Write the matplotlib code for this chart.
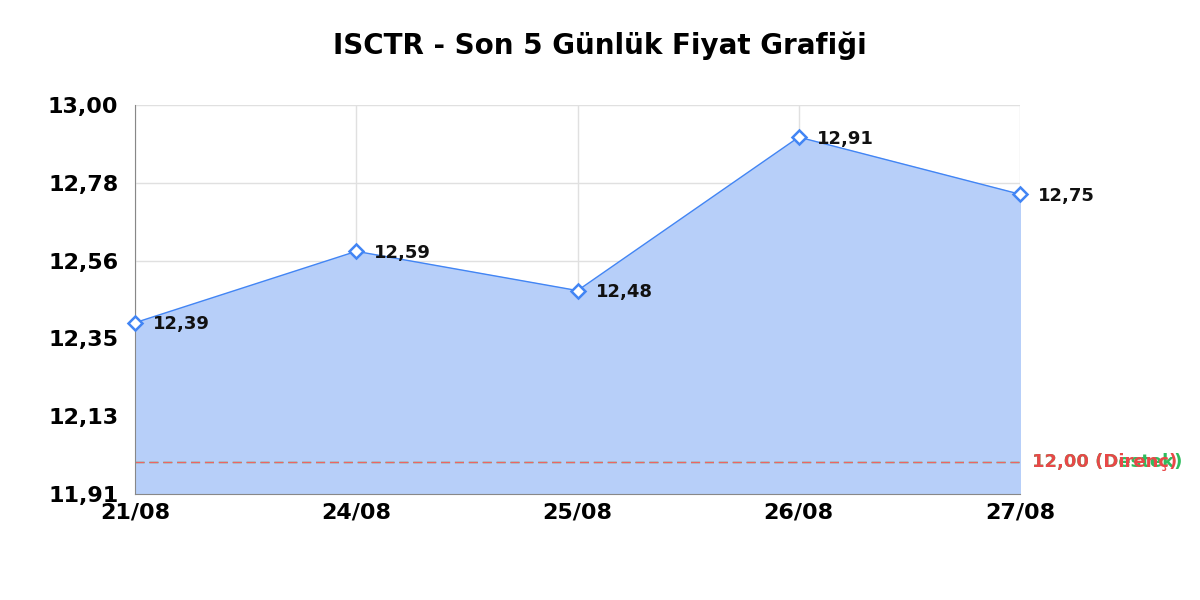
import matplotlib
matplotlib.use("Agg")
from matplotlib import pyplot as plt
import numpy as np

plt.rcParams['font.family'] = ['DejaVu Sans']

dates = ["21/08", "24/08", "25/08", "26/08", "27/08"]
prices = [12.39, 12.59, 12.48, 12.91, 12.75]
support = 12.00
resistance = 12.00
y_min, y_max = 11.91, 13.00

def tr(v):
    return f"{v:.2f}".replace(".", ",")

fig = plt.figure(figsize=(12, 6), dpi=100)
ax = fig.add_axes([0.1125, 0.1767, 0.7375, 0.6483])

x = np.arange(len(dates))
line_color = "#4285f4"
ax.fill_between(x, prices, y_min, color="#b7cff9", zorder=1)
ax.plot(x, prices, color=line_color, linewidth=1, zorder=3)
ax.plot(x, prices, linestyle="none", marker="D", markersize=7, clip_on=False,
        markerfacecolor="white", markeredgecolor=line_color, markeredgewidth=1.8, zorder=4)

for xi, p in zip(x, prices):
    ax.annotate(tr(p), (xi, p), xytext=(13, -1), textcoords="offset points",
                ha="left", va="center", fontsize=13, fontweight="bold", color="#111111", zorder=5)

# destek / direnc seviyeleri (ayni seviyede, kirmizi ustte)
dash = (0, (6.5, 3.5))
ax.axhline(support, color="#2ecc71", linestyle=dash, linewidth=1.0, zorder=2)
ax.axhline(resistance, color="#ee6464", linestyle=dash, linewidth=1.0, zorder=2.5)
ax.annotate(f"{tr(support)} (Destek)", (1, support), xycoords=("axes fraction", "data"),
            xytext=(9, 0), textcoords="offset points", ha="left", va="center",
            fontsize=13, fontweight="bold", color="#2ebd5e", annotation_clip=False)
ax.annotate(f"{tr(resistance)} (Direnç)", (1, resistance), xycoords=("axes fraction", "data"),
            xytext=(9, 0), textcoords="offset points", ha="left", va="center",
            fontsize=13, fontweight="bold", color="#e84848", annotation_clip=False)

ax.set_xlim(0, len(dates) - 1)
ax.set_ylim(y_min, y_max)
yt = np.linspace(y_min, y_max, 6)
ax.set_yticks(yt)
ax.set_yticklabels([tr(v) for v in yt])
ax.set_xticks(x)
ax.set_xticklabels(dates)
ax.tick_params(axis="both", length=0, labelsize=16, pad=12)
for lab in ax.get_xticklabels() + ax.get_yticklabels():
    lab.set_fontweight("bold")
ax.tick_params(axis="x", pad=6)

ax.grid(True, color="#e0e0e0", linewidth=1, zorder=0)
ax.set_axisbelow(True)
for s in ["top", "right"]:
    ax.spines[s].set_visible(False)
for s in ["left", "bottom"]:
    ax.spines[s].set_color("#888888")

fig.suptitle("ISCTR - Son 5 Günlük Fiyat Grafiği", fontsize=20, fontweight="bold", y=0.947)
fig.savefig("out.png", dpi=100)
